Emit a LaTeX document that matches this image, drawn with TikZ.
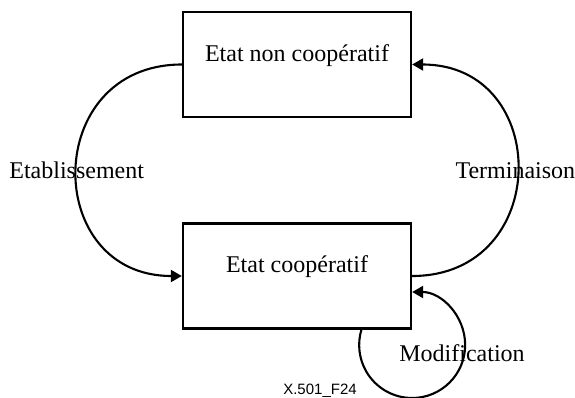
\documentclass[tikz,border=0pt]{standalone}
\usepackage{fontspec}
\setmainfont{Liberation Serif}
\newfontfamily\arialfont{Liberation Sans}
\usetikzlibrary{arrows.meta,calc}
\begin{document}
\begin{tikzpicture}[x=1pt,y=1pt,
  statebox/.style={draw,line width=2.3pt,minimum width=228pt,minimum height=105pt,
    inner sep=0pt,text height=49pt,text depth=56pt,
    font=\fontsize{24}{28}\selectfont},
  conn/.style={line width=2.1pt},
  tip/.style={-{Triangle[length=11pt,width=12pt]}},
  lbl/.style={font=\fontsize{24}{28}\selectfont,inner sep=0pt}]
\useasboundingbox (0,0) rectangle (575,-397);
\node[statebox] (nc) at (297,-64.5) {Etat non coopératif};
\node[statebox] (co) at (297,-276) {Etat coopératif};
\draw[conn,tip] (nc.west) to[out=180,in=180,looseness=1.7]
  node[lbl,midway] (let) {Etablissement} (co.west);
\draw[conn,tip] (co.east) to[out=0,in=0,looseness=1.7]
  node[lbl,midway,xshift=-2pt] (lte) {Terminaison} (nc.east);
\draw[conn,{Triangle[length=11pt,width=12pt]}-] ($(co.east)+(0,-16)$) coordinate (loopend)
  arc[start angle=90,end angle=-197,radius=53];
\node[lbl] (lmo) at (462,-353) {Modification};
\node[anchor=base,inner sep=0pt,font=\arialfont\fontsize{15}{18}\selectfont] (fig) at (320,-394) {X.501\_F24};
\end{tikzpicture}
\end{document}
